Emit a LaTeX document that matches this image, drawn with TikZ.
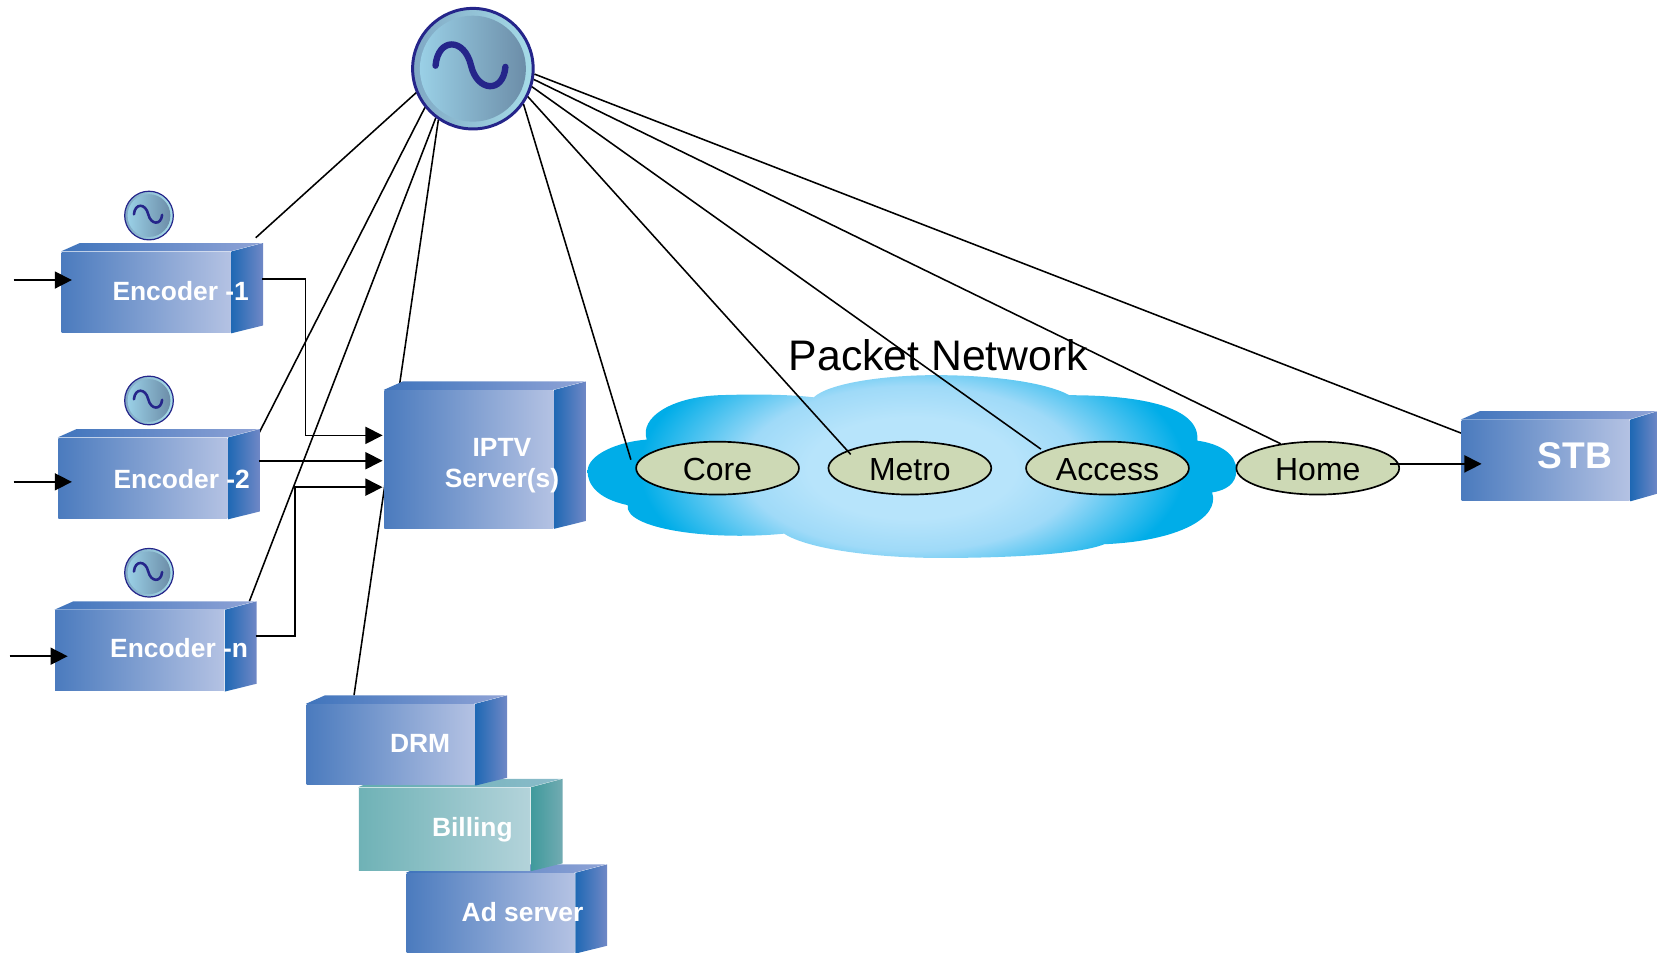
\documentclass[tikz,border=0pt]{standalone}
\usepackage{fontspec}
\setmainfont{Liberation Sans}
\usepackage{tikz}
\usetikzlibrary{arrows.meta, shapes.geometric}

\definecolor{faceL}{HTML}{4B7BBE}
\definecolor{faceM}{HTML}{8FA3D3}
\definecolor{faceR}{HTML}{B4C2E3}
\definecolor{faceSideL}{HTML}{1F68B4}
\definecolor{faceSideR}{HTML}{7088C6}
\definecolor{faceTopL}{HTML}{3F74BC}
\definecolor{faceTopR}{HTML}{8FA3D6}
\definecolor{tealL}{HTML}{6FB2B6}
\definecolor{tealM}{HTML}{90C0C6}
\definecolor{tealR}{HTML}{B3D3DA}
\definecolor{tealSideL}{HTML}{3F9A9C}
\definecolor{tealSideR}{HTML}{72ABB2}
\definecolor{tealTopL}{HTML}{62ACAF}
\definecolor{tealTopR}{HTML}{8CBCCB}
\definecolor{cloudIn}{HTML}{B7E4FB}
\definecolor{cloudMid}{HTML}{9FDAF8}
\definecolor{cloudOut}{HTML}{00ADE8}
\definecolor{hub}{HTML}{CDD9B5}
\definecolor{navy}{HTML}{25258A}
\definecolor{rimL}{HTML}{7FA8C4}
\definecolor{rimR}{HTML}{A6DCE8}
\definecolor{dialL}{HTML}{9AD0E6}
\definecolor{dialR}{HTML}{6C8DA8}

\pgfdeclareradialshading{cloudshade}{\pgfpoint{0bp}{0bp}}{color(0bp)=(cloudIn); color(8bp)=(cloudIn); color(13bp)=(cloudMid); color(21bp)=(cloudOut); color(50bp)=(cloudOut)}

\tikzset{
  boxtext/.style = {text = white, font = \fontsize{7.1}{8.4}\selectfont\bfseries, align = center, inner sep = 0},
  hubnode/.style = {draw, ellipse, fill = hub, line width = 0.45pt, minimum width = 1.54cm, minimum height = 0.5cm, inner sep = 0, text height = 6.6pt, text depth = 0pt, font = \fontsize{8.6}{10}\selectfont},
  link/.style = {line width = 0.42pt},
  feed/.style = {line width = 0.42pt, -{Triangle[length = 4.6pt, width = 4.6pt]}}
}

% name, left, top of front, width, height, side depth, colour set
\newcommand{\cubebox}[7]{
  \node [anchor = north west, minimum width = #4*0.01cm, minimum height = #5*0.01cm, inner sep = 0, left color = #7L, middle color = #7M, right color = #7R] (#1) at (#2, #3) {};
  \shade [left color = #7TopL, right color = #7TopR] (#1.north west) -- ++(18, -8) -- ++(#4 + #6 - 18, 0) -- ++(-#6, 8) -- cycle;
  \shade [left color = #7SideL, right color = #7SideR] (#1.north east) -- ++(#6, -8) -- ++(0, #5 + 2) -- (#1.south east) -- cycle;
}
% name, x, y, radius
\newcommand{\clockface}[4]{
  \node [circle, draw = navy, line width = #4*0.014pt, minimum size = #4*0.02cm, inner sep = 0, left color = rimL, right color = rimR] (#1) at (#2, #3) {};
  \begin{scope}[shift = {(#2, #3)}, scale = #4]
    \shade [left color = dialL, right color = dialR] (0, 0) circle (0.88);
    \draw [navy, line width = #4*0.03pt, line cap = round] (-0.62, -0.05) .. controls (-0.58, -0.52) and (-0.14, -0.52) .. (-0.03, -0.05) .. controls (0.07, 0.38) and (0.5, 0.42) .. (0.54, -0.03);
  \end{scope}
}

\begin{document}
\begin{tikzpicture}[x = 0.01cm, y = -0.01cm]
  \useasboundingbox (0, 0) rectangle (1568, 901);

  % cloud
  \begin{scope}
    \clip (594, 478) .. controls (565, 472) and (556, 458) .. (556, 446)
      .. controls (556, 430) and (585, 418) .. (612, 416)
      .. controls (605, 395) and (635, 376) .. (680, 374)
      .. controls (710, 373) and (745, 373) .. (770, 376)
      .. controls (785, 362) and (840, 355) .. (885, 355)
      .. controls (940, 355) and (990, 362) .. (1012, 374)
      .. controls (1080, 374) and (1136, 385) .. (1133, 417)
      .. controls (1155, 420) and (1170, 430) .. (1170, 445)
      .. controls (1170, 458) and (1160, 464) .. (1147, 466)
      .. controls (1155, 490) and (1115, 512) .. (1045, 515)
      .. controls (1020, 525) and (950, 528) .. (890, 528)
      .. controls (830, 528) and (765, 520) .. (742, 505)
      .. controls (670, 512) and (590, 500) .. (594, 478) -- cycle;
    \shade [shading = cloudshade] (556, 293) rectangle (1170, 593);
  \end{scope}

  \node [hubnode] (core) at (679, 443) {Core};
  \node [hubnode] (metro) at (861, 443) {Metro};
  \node [hubnode] (access) at (1048, 443) {Access};
  \node [hubnode] (home) at (1247, 443) {Home};
  \node [font = \fontsize{11.5}{13}\selectfont, inner sep = 0] (packet) at (888, 336) {Packet Network};

  \clockface{master}{447.5}{65}{57}
  \clockface{clockA}{141}{204}{23}
  \clockface{clockB}{141}{379}{23}
  \clockface{clockC}{141}{542}{23}

  % free ends
  \coordinate (enc1tip) at (242, 225);
  \coordinate (enc2tip) at (245, 410);
  \coordinate (encntip) at (236, 569);
  \coordinate (drmtip) at (335, 658);
  \coordinate (coretip) at (597, 435);
  \coordinate (metrotip) at (805, 430);
  \coordinate (accesstip) at (985, 425);
  \coordinate (hometip) at (1212, 420);
  \coordinate (stbtip) at (1383, 410);

  \draw [link] (master.203) -- (enc1tip);
  \draw [link] (master.219) -- (enc2tip);
  \draw [link] (master.233) -- (encntip);
  \draw [link] (master.236) -- (drmtip);
  \draw [link] (master.-35) -- (coretip);
  \draw [link] (master.-27) -- (metrotip);
  \draw [link] (master.-17) -- (accesstip);
  \draw [link] (master.-10) -- (hometip);
  \draw [link] (master.-5) -- (stbtip);

  \cubebox{enc1}{57.5}{238}{160}{76}{30}{face}
  \cubebox{enc2}{54.5}{414}{160}{76}{30}{face}
  \cubebox{encn}{51.5}{577}{160}{76}{30}{face}
  \cubebox{server}{363}{369}{160}{130}{30}{face}
  \cubebox{stb}{1382.5}{397}{159}{76}{26}{face}
  \cubebox{adsrv}{384}{826}{159}{75}{30}{face}
  \cubebox{billing}{339}{745}{162}{78}{30}{teal}
  \cubebox{drm}{289.5}{666}{159}{76}{30}{face}

  \node [boxtext] (enc1text) at (171, 275) {Encoder -1};
  \node [boxtext] (enc2text) at (172, 453) {Encoder -2};
  \node [boxtext] (encntext) at (169.5, 613) {Encoder -n};
  \node [boxtext] (servertext) at (475, 441) {IPTV\\Server(s)};
  \node [boxtext] (drmtext) at (397.5, 703.5) {DRM};
  \node [boxtext] (billingtext) at (447, 785) {Billing};
  \node [boxtext] (adtext) at (494.5, 863) {Ad server};
  \node [boxtext, font = \fontsize{10}{12}\selectfont\bfseries] (stbtext) at (1490.5, 431) {STB};

  % feeds
  \coordinate (in1) at (13, 265);
  \coordinate (in2) at (13, 456);
  \coordinate (inn) at (9, 621);
  \coordinate (into1) at (68, 265);
  \coordinate (into2) at (68, 456);
  \coordinate (inton) at (64, 621);
  \draw [feed] (in1) -- (into1);
  \draw [feed] (in2) -- (into2);
  \draw [feed] (inn) -- (inton);

  \coordinate (out1) at (248, 264);
  \coordinate (out2) at (245, 436);
  \coordinate (outn) at (242, 602);
  \coordinate (srv1) at (362, 412);
  \coordinate (srv2) at (362, 436);
  \coordinate (srvn) at (362, 461);
  \draw [feed] (out1) -- (289, 264) -- (289, 412) -- (srv1);
  \draw [feed] (out2) -- (srv2);
  \draw [feed] (outn) -- (279, 602) -- (279, 461) -- (srvn);

  \coordinate (homeout) at (1315, 439);
  \coordinate (stbin) at (1402, 439);
  \draw [feed] (homeout) -- (stbin);
\end{tikzpicture}
\end{document}
